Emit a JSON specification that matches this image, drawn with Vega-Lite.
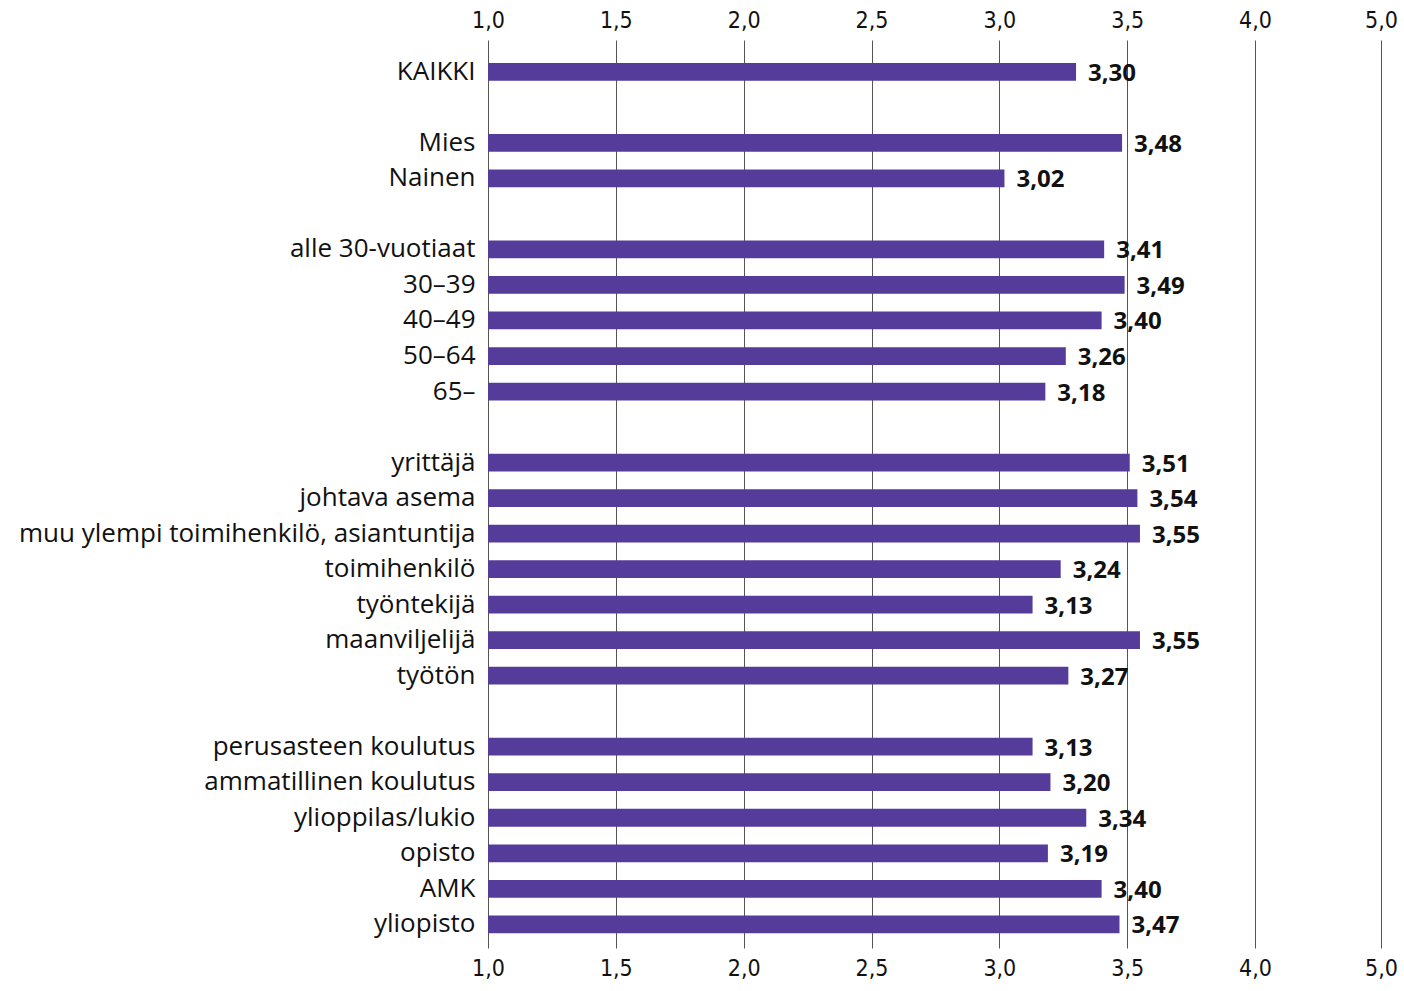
{
  "$schema": "https://vega.github.io/schema/vega-lite/v6.json",
  "autosize": "none",
  "width": 893,
  "height": 908,
  "padding": {"left": 488, "top": 40, "right": 23, "bottom": 43},
  "background": "white",
  "config": {
    "view": {"stroke": null},
    "locale": {"number": {"decimal": ",", "thousands": "\u00a0", "grouping": [3], "currency": ["", " €"]}}
  },
  "data": {"values": [
    {"ryhma": "KAIKKI", "arvo": 3.30},
    {"ryhma": "Mies", "arvo": 3.48},
    {"ryhma": "Nainen", "arvo": 3.02},
    {"ryhma": "alle 30-vuotiaat", "arvo": 3.41},
    {"ryhma": "30–39", "arvo": 3.49},
    {"ryhma": "40–49", "arvo": 3.40},
    {"ryhma": "50–64", "arvo": 3.26},
    {"ryhma": "65–", "arvo": 3.18},
    {"ryhma": "yrittäjä", "arvo": 3.51},
    {"ryhma": "johtava asema", "arvo": 3.54},
    {"ryhma": "muu ylempi toimihenkilö, asiantuntija", "arvo": 3.55},
    {"ryhma": "toimihenkilö", "arvo": 3.24},
    {"ryhma": "työntekijä", "arvo": 3.13},
    {"ryhma": "maanviljelijä", "arvo": 3.55},
    {"ryhma": "työtön", "arvo": 3.27},
    {"ryhma": "perusasteen koulutus", "arvo": 3.13},
    {"ryhma": "ammatillinen koulutus", "arvo": 3.20},
    {"ryhma": "ylioppilas/lukio", "arvo": 3.34},
    {"ryhma": "opisto", "arvo": 3.19},
    {"ryhma": "AMK", "arvo": 3.40},
    {"ryhma": "yliopisto", "arvo": 3.47}
  ]},
  "encoding": {
    "y": {
      "field": "ryhma",
      "type": "nominal",
      "title": null,
      "scale": {
        "domain": ["KAIKKI", " ", "Mies", "Nainen", "  ", "alle 30-vuotiaat", "30–39", "40–49", "50–64", "65–", "   ", "yrittäjä", "johtava asema", "muu ylempi toimihenkilö, asiantuntija", "toimihenkilö", "työntekijä", "maanviljelijä", "työtön", "    ", "perusasteen koulutus", "ammatillinen koulutus", "ylioppilas/lukio", "opisto", "AMK", "yliopisto"],
        "paddingInner": 0.5,
        "paddingOuter": 0.532,
        "align": 0.608
      },
      "axis": {
        "domain": false,
        "ticks": false,
        "labelPadding": 13,
        "labelFont": "Open Sans",
        "labelFontSize": 26,
        "labelColor": "#111111",
        "labelLimit": 700
      }
    }
  },
  "layer": [
    {
      "mark": {"type": "bar", "color": "#553c9b"},
      "encoding": {
        "x": {
          "field": "arvo",
          "type": "quantitative",
          "title": null,
          "scale": {"domain": [1, 4, 5], "range": [0, 767, 893], "zero": false, "nice": false},
          "axis": {
            "orient": "bottom",
            "values": [1, 1.5, 2, 2.5, 3, 3.5, 4, 5],
            "format": ".1f",
            "grid": true,
            "gridColor": "#555555",
            "gridWidth": 1,
            "gridOpacity": 1,
            "domain": false,
            "ticks": false,
            "labelFlush": false,
            "labelPadding": 9,
            "labelFont": "DejaVu Sans Condensed, Liberation Sans Narrow, Roboto",
            "labelFontSize": 23,
            "labelColor": "#111111"
          }
        },
        "x2": {"datum": 1}
      }
    },
    {
      "mark": {"type": "text", "align": "left", "baseline": "middle", "dx": 12, "dy": 2, "font": "Open Sans", "fontWeight": "bold", "fontSize": 24, "color": "#111111"},
      "encoding": {
        "x": {
          "field": "arvo",
          "type": "quantitative",
          "axis": {
            "orient": "top",
            "title": null,
            "values": [1, 1.5, 2, 2.5, 3, 3.5, 4, 5],
            "format": ".1f",
            "grid": false,
            "domain": false,
            "ticks": false,
            "labelFlush": false,
            "labelPadding": 8,
            "labelFont": "DejaVu Sans Condensed, Liberation Sans Narrow, Roboto",
            "labelFontSize": 23,
            "labelColor": "#111111"
          }
        },
        "text": {"field": "arvo", "type": "quantitative", "format": ".2f"}
      }
    }
  ],
  "resolve": {"axis": {"x": "independent"}}
}
